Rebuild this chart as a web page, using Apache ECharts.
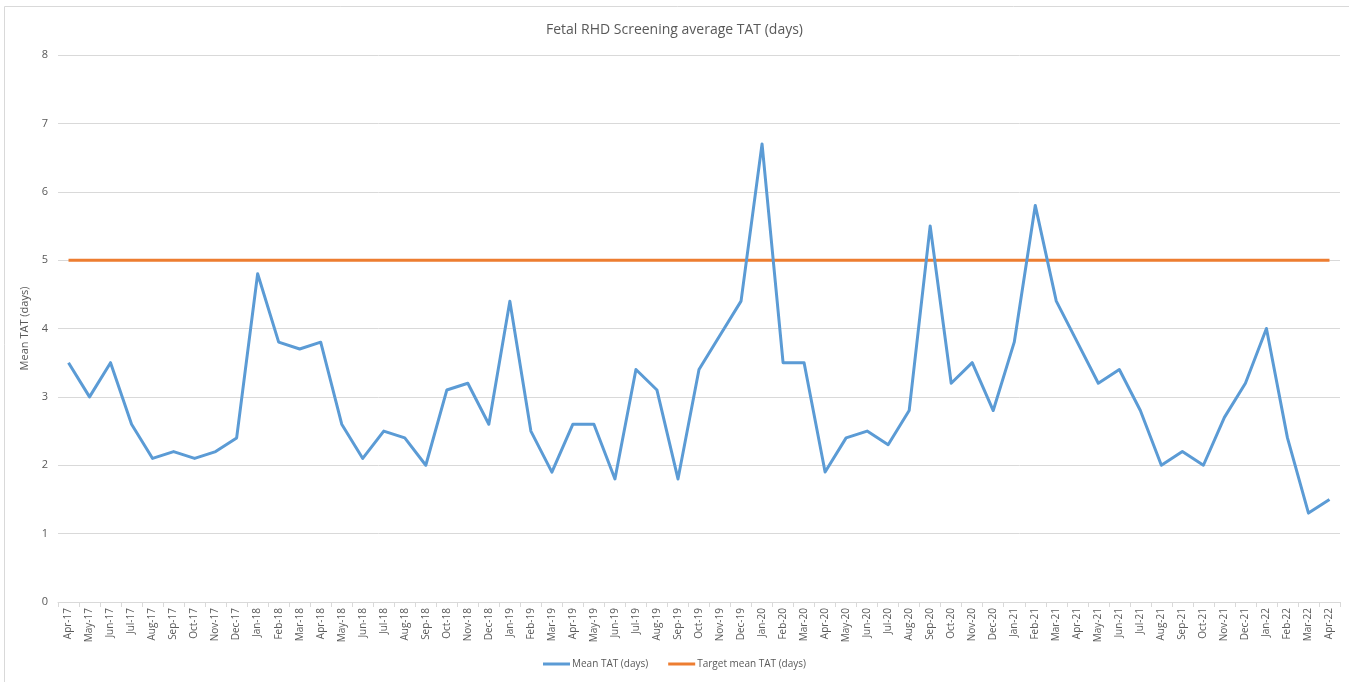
<!DOCTYPE html>
<html>
<head>
<meta charset="utf-8">
<script src="https://cdn.jsdelivr.net/npm/echarts@6/dist/echarts.min.js"></script>
<style>
  html, body { margin: 0; padding: 0; background: #fff; }
  #chart { width: 1349px; height: 682px; }
</style>
</head>
<body>
<div id="chart"></div>
<script>
const months = [
  'Apr-17', 'May-17', 'Jun-17', 'Jul-17', 'Aug-17', 'Sep-17', 'Oct-17', 'Nov-17', 'Dec-17',
  'Jan-18', 'Feb-18', 'Mar-18', 'Apr-18', 'May-18', 'Jun-18', 'Jul-18', 'Aug-18', 'Sep-18', 'Oct-18', 'Nov-18', 'Dec-18',
  'Jan-19', 'Feb-19', 'Mar-19', 'Apr-19', 'May-19', 'Jun-19', 'Jul-19', 'Aug-19', 'Sep-19', 'Oct-19', 'Nov-19', 'Dec-19',
  'Jan-20', 'Feb-20', 'Mar-20', 'Apr-20', 'May-20', 'Jun-20', 'Jul-20', 'Aug-20', 'Sep-20', 'Oct-20', 'Nov-20', 'Dec-20',
  'Jan-21', 'Feb-21', 'Mar-21', 'Apr-21', 'May-21', 'Jun-21', 'Jul-21', 'Aug-21', 'Sep-21', 'Oct-21', 'Nov-21', 'Dec-21',
  'Jan-22', 'Feb-22', 'Mar-22', 'Apr-22'
]

const meanTat = [
  3.5, 3.0, 3.5, 2.6, 2.1, 2.2, 2.1, 2.2, 2.4,
  4.8, 3.8, 3.7, 3.8, 2.6, 2.1, 2.5, 2.4, 2.0, 3.1, 3.2, 2.6,
  4.4, 2.5, 1.9, 2.6, 2.6, 1.8, 3.4, 3.1, 1.8, 3.4, 3.9, 4.4,
  6.7, 3.5, 3.5, 1.9, 2.4, 2.5, 2.3, 2.8, 5.5, 3.2, 3.5, 2.8,
  3.8, 5.8, 4.4, 3.8, 3.2, 3.4, 2.8, 2.0, 2.2, 2.0, 2.7, 3.2,
  4.0, 2.4, 1.3, 1.5
]

const targetTat = months.map(() => 5)

const textColor = '#595959'
const gridColor = '#D9D9D9'
const font = 'Open Sans, Noto Sans, sans-serif'

const chart = echarts.init(document.getElementById('chart'))

chart.setOption({
  animation: false,
  textStyle: { fontFamily: font },
  title: {
    text: 'Fetal RHD Screening average TAT (days)',
    left: 'center',
    top: 18,
    textStyle: { fontSize: 14, fontWeight: 'normal', color: textColor, fontFamily: font },
  },
  graphic: [
    {
      type: 'rect',
      shape: { x: 4.5, y: 6.5, width: 1400, height: 700 },
      style: { fill: 'none', stroke: gridColor, lineWidth: 1 },
      silent: true,
    },
  ],
  grid: {
    left: 58,
    right: 9,
    top: 55,
    bottom: 80,
  },
  legend: {
    bottom: 8,
    left: 'center',
    icon: 'rect',
    itemWidth: 27,
    itemHeight: 3,
    itemGap: 20,
    textStyle: { fontSize: 10, color: textColor, fontFamily: font, padding: [0, 0, 0, -3] },
    data: ['Mean TAT (days)', 'Target mean TAT (days)'],
  },
  xAxis: {
    type: 'category',
    data: months,
    boundaryGap: true,
    axisLine: { lineStyle: { color: gridColor } },
    axisTick: { show: true, lineStyle: { color: gridColor }, length: 5 },
    axisLabel: {
      interval: 0,
      rotate: 90,
      fontSize: 10,
      color: textColor,
      margin: 6,
    },
  },
  yAxis: {
    type: 'value',
    min: 0,
    max: 8,
    interval: 1,
    name: 'Mean TAT (days)',
    nameLocation: 'middle',
    nameGap: 24,
    nameTextStyle: { fontSize: 11, color: textColor },
    axisLine: { show: false },
    axisTick: { show: false },
    axisLabel: { fontSize: 11, color: textColor, margin: 10 },
    splitLine: { lineStyle: { color: gridColor } },
  },
  series: [
    {
      name: 'Mean TAT (days)',
      type: 'line',
      data: meanTat,
      showSymbol: false,
      symbol: 'none',
      itemStyle: { color: '#5B9BD5' },
      lineStyle: { width: 3, color: '#5B9BD5', join: 'round' },
      z: 3,
    },
    {
      name: 'Target mean TAT (days)',
      type: 'line',
      data: targetTat,
      showSymbol: false,
      symbol: 'none',
      itemStyle: { color: '#ED7D31' },
      lineStyle: { width: 3, color: '#ED7D31' },
      z: 2,
    },
  ],
})
</script>
</body>
</html>
